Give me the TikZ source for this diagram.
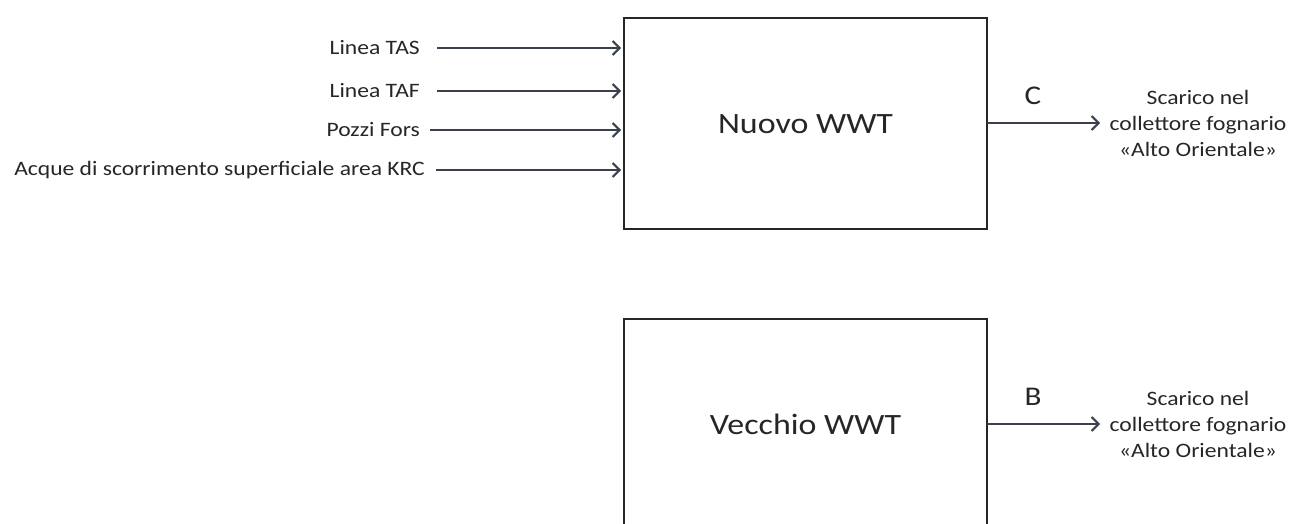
\documentclass[tikz,border=0pt]{standalone}
\usepackage{fontspec}
\setmainfont{Carlito}[FakeStretch=1.15]
\usetikzlibrary{arrows.meta}
\definecolor{arr}{RGB}{58,64,76}
\begin{document}
\begin{tikzpicture}[x=1pt,y=-1pt,
  box/.style={draw=black!85,line width=1.2pt},
  lab/.style={font=\fontsize{20.5}{24}\selectfont,text=black!85,inner sep=0pt},
  big/.style={font=\fontsize{29.5}{34}\selectfont,text=black!85,inner sep=0pt},
  letter/.style={font=\fontsize{27}{30}\selectfont,text=black!85,inner sep=0pt},
  conn/.style={draw=arr,line width=2.3pt,-{Straight Barb[length=7pt,width=14pt,line width=2pt]}},
  outlab/.style={lab,align=center,font=\fontsize{20.5}{26}\selectfont}]
\useasboundingbox (0,0) rectangle (1292,524);
\draw[box] (624,18) rectangle (987,229);
\node[big] (n) at (805.5,124) {Nuovo WWT};
\draw[box] (624,560) -- (624,319) -- (987,319) -- (987,560);
\node[big] (v) at (805.5,424) {Vecchio WWT};
% inputs
\node[lab,anchor=east] (l1) at (420,48) {Linea TAS};
\node[lab,anchor=east] (l2) at (420,91) {Linea TAF};
\node[lab,anchor=east] (l3) at (420,130) {Pozzi Fors};
\node[lab,anchor=east] (l4) at (425,170) {Acque di scorrimento superficiale area KRC};
\coordinate (e1) at (621,48);
\coordinate (e2) at (621,91);
\coordinate (e3) at (621,130);
\coordinate (e4) at (621,170);
\coordinate (s1) at (437,48);
\coordinate (s2) at (437,91);
\coordinate (s3) at (430,130);
\coordinate (s4) at (436,170);
\draw[conn] (s1) -- (e1);
\draw[conn] (s2) -- (e2);
\draw[conn] (s3) -- (e3);
\draw[conn] (s4) -- (e4);
% outputs
\coordinate (c0) at (987,123);
\coordinate (c1) at (1100,123);
\draw[conn] (c0) -- (c1);
\node[letter] (C) at (1033,96) {C};
\node[outlab] (o1) at (1198,123) {Scarico nel\\collettore fognario\\«Alto Orientale»};
\coordinate (b0) at (987,424);
\coordinate (b1) at (1100,424);
\draw[conn] (b0) -- (b1);
\node[letter] (B) at (1033,397) {B};
\node[outlab] (o2) at (1198,424) {Scarico nel\\collettore fognario\\«Alto Orientale»};
\end{tikzpicture}
\end{document}
